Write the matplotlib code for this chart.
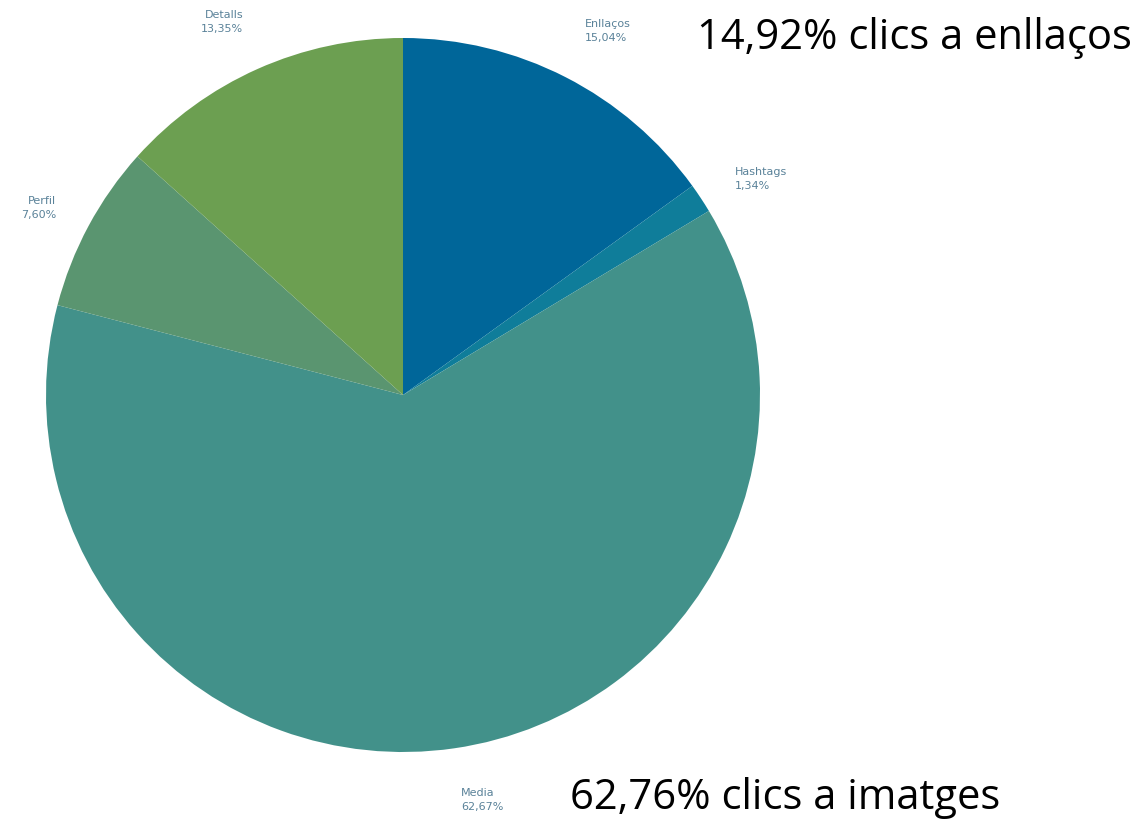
import matplotlib
matplotlib.use("Agg")
import matplotlib.pyplot as plt

# Slice data (clockwise from 12 o'clock)
categories = ["Enllaços", "Hashtags", "Media", "Perfil", "Detalls"]
shares = [15.04, 1.34, 62.67, 7.60, 13.35]
colors = ["#006699", "#0f7d9a", "#42918a", "#5a9570", "#6c9f51"]

# label anchor positions in pixel coords (x, y from top) and alignment
label_pos = {
    "Enllaços": (585, 19, "left"),
    "Hashtags": (735, 167, "left"),
    "Media": (461, 788, "left"),
    "Perfil": (56, 196, "right"),
    "Detalls": (243, 10, "right"),
}

W, H = 1144, 819
fig = plt.figure(figsize=(W / 100, H / 100), dpi=100)
ax = fig.add_axes([0, 0, 1, 1])
ax.set_xlim(0, W)
ax.set_ylim(0, H)
ax.set_aspect("equal")
ax.axis("off")

ax.pie(shares, colors=colors, startangle=90, counterclock=False,
       center=(403, H - 395), radius=357,
       wedgeprops=dict(linewidth=0.6, edgecolor=None))
ax.set_xlim(0, W)
ax.set_ylim(0, H)

lab_color = "#5a8299"
for cat, val in zip(categories, shares):
    x, y, ha = label_pos[cat]
    txt = f"{cat}\n{val:.2f}%".replace(".", ",")
    ax.text(x, H - y, txt, ha=ha, va="top", fontsize=8, color=lab_color,
            linespacing=1.45, family="DejaVu Sans")

ax.text(697, H - 38, "14,92% clics a enllaços", ha="left", va="center",
        fontsize=30, color="black", family="Open Sans")
ax.text(570, H - 798, "62,76% clics a imatges", ha="left", va="center",
        fontsize=30, color="black", family="Open Sans")

fig.savefig("out.png", dpi=100)
